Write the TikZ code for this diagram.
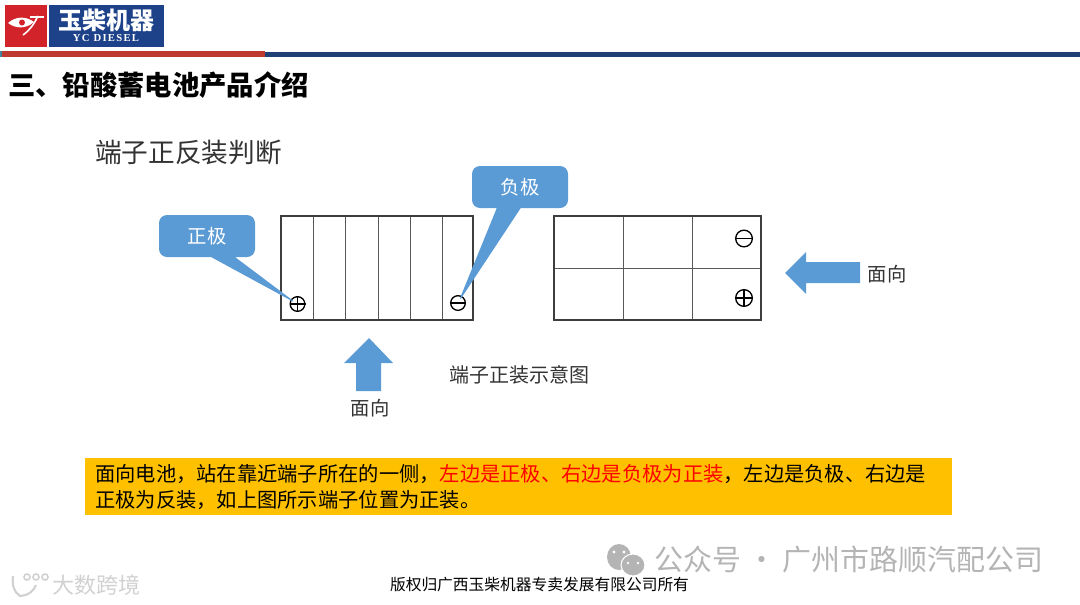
\documentclass[tikz,border=0pt]{standalone}
\usepackage{fontspec}
\usepackage{xcolor}
\setmainfont{Noto Sans CJK SC}
\newfontfamily\logolatin[LetterSpace=12]{Liberation Serif}
\usetikzlibrary{shapes.callouts}
\definecolor{calloutblue}{HTML}{5B9BD5}
\definecolor{logored}{HTML}{D2232A}
\definecolor{barred}{HTML}{BE3A2E}
\definecolor{logonavy}{HTML}{1D4289}
\definecolor{barnavy}{HTML}{1F3F77}
\definecolor{noteyellow}{HTML}{FFC000}
\definecolor{linegray}{HTML}{595959}
\definecolor{markgray}{HTML}{B4B4B4}
\tikzset{
	px/.style={x=0.75pt,y=-0.75pt},
	cell/.style={draw=linegray,line width=0.6pt},
	frame/.style={draw=linegray!70!black,line width=1pt},
	terminal/.style={circle,draw=black,line width=1pt,inner sep=0pt,minimum size=#1},
	bubble/.style={rectangle callout,fill=calloutblue,rounded corners=6pt,text=white,font=\fontsize{14.5}{16}\selectfont,minimum width=72pt,minimum height=31.5pt,callout pointer width=18pt},
	direction/.style={fill=calloutblue},
	caption/.style={text=black!80,inner sep=0pt,font=\fontsize{14.5}{16}\selectfont},
	note/.style={anchor=west,inner sep=0pt,font=\fontsize{15.2}{17}\selectfont}
}
\begin{document}
\begin{tikzpicture}[px]
	\useasboundingbox (0,0) rectangle (1080,604);

	\fill[logored] (5,5) rectangle (47,47);
	\fill[logonavy] (49,5) rectangle (164,47);
	\fill[white] (8,23) .. controls (16,16) and (26,16) .. (34,22) .. controls (26,29) and (16,29) .. (8,23) -- cycle;
	\fill[logored] (22,22.5) circle (3);
	\draw[white,line width=1.2pt] (38,16) .. controls (34,24) and (30,30) .. (23,35);
	\draw[white,line width=0.8pt] (30,17) -- (44,17);
	\node[inner sep=0pt,text=white] (logotext) at (106,20) {\fontsize{18}{20}\selectfont\bfseries 玉柴机器};
	\node[inner sep=0pt,text=white] (logolatin) at (106,38) {\logolatin\fontsize{8}{10}\selectfont\bfseries YC DIESEL};

	\fill[cyan!60!black] (0,51) rectangle (2,57);
	\fill[barred] (2,51) rectangle (265,57);
	\fill[barnavy] (265,52) rectangle (1080,57);

	\node[anchor=west,inner sep=0pt] (title) at (8,85) {\fontsize{20.5}{24}\selectfont\bfseries 三、铅酸蓄电池产品介绍};
	\node[anchor=west,inner sep=0pt,text=black!80] (subtitle) at (95,152) {\fontsize{20}{24}\selectfont 端子正反装判断};

	\foreach \x in {313,345,378,410,442}
	\draw[cell] (\x,216) -- (\x,320);
	\draw[frame] (281,216) rectangle (473,320);

	\foreach \x in {623,692}
	\draw[cell] (\x,216) -- (\x,320);
	\draw[cell] (554,268) -- (761,268);
	\draw[frame] (554,216) rectangle (761,320);

	\node[terminal=11pt] (posleft) at (297.5,304) {};
	\node[terminal=11pt] (negleft) at (458,303) {};
	\node[terminal=12.5pt] (negright) at (744,238.5) {};
	\node[terminal=12.5pt] (posright) at (744,298) {};
	\foreach \t in {posleft,negleft,negright,posright}
	\draw[line width=0.8pt] (\t.west) -- (\t.east);
	\foreach \t in {posleft,posright}
	\draw[line width=0.8pt] (\t.north) -- (\t.south);

	\node[bubble,callout absolute pointer={(posleft.center)}] (posbubble) at (207,236) {正极};
	\node[bubble,callout absolute pointer={(negleft.center)}] (negbubble) at (520,187) {负极};

	\fill[direction] (369,338) -- (393,363) -- (381,363) -- (381,391) -- (356,391) -- (356,363) -- (344,363) -- cycle;
	\fill[direction] (785,273) -- (806,252) -- (806,262) -- (860,262) -- (860,283) -- (806,283) -- (806,294) -- cycle;

	\node[caption] (facebottom) at (370,408) {面向};
	\node[caption] (faceright) at (887,274) {面向};
	\node[caption,font=\fontsize{15}{16}\selectfont] (diagramcaption) at (519,375) {端子正装示意图};

	\fill[noteyellow] (85,458) rectangle (952,515);
	\node[note] (noteone) at (95,474) {面向电池，站在靠近端子所在的一侧，\textcolor{red}{左边是正极、右边是负极为正装}，左边是负极、右边是};
	\node[note] (notetwo) at (95,500) {正极为反装，如上图所示端子位置为正装。};

	\node[inner sep=0pt] (footer) at (539.5,585) {\fontsize{11.8}{14}\selectfont 版权归广西玉柴机器专卖发展有限公司所有};

	\fill[markgray] (619,557) ellipse (12 and 13);
	\fill[markgray,draw=white,line width=0.8pt] (633,565) ellipse (12 and 11);
	\fill[white] (614,552) circle (1.6) (624,552) circle (1.6) (628,563) circle (1.4) (638,563) circle (1.4);
	\node[anchor=west,inner sep=0pt,text=markgray] (wechatmark) at (654,560) {\fontsize{21.7}{24}\selectfont 公众号 · 广州市路顺汽配公司};
	\node[anchor=west,inner sep=0pt,text=black!18] (sitemark) at (52,585) {\fontsize{16.5}{20}\selectfont 大数跨境};
	\draw[black!18,line width=1.6pt] (13,576) .. controls (12,586) and (14,592) .. (20,596) .. controls (30,595) and (34,590) .. (36,585);
	\draw[black!18,line width=1.2pt] (27,577) circle (3) (36,577) circle (3) (45,577) circle (3);
\end{tikzpicture}
\end{document}
